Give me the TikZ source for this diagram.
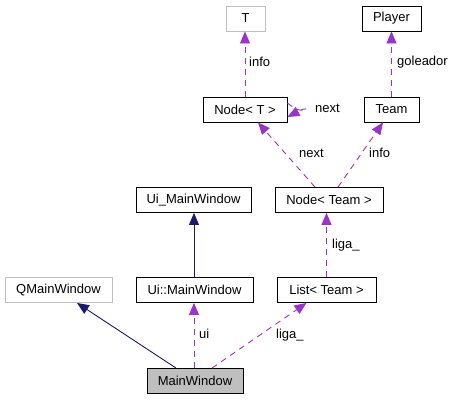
\documentclass[tikz,border=0pt]{standalone}
\usepackage{fontspec}
\setmainfont{Liberation Sans}
\usetikzlibrary{arrows.meta}
\definecolor{usage}{HTML}{9A32CD}
\definecolor{inherit}{HTML}{191970}
\definecolor{extgray}{HTML}{BFBFBF}
\tikzset{
  cls/.style={draw=black, fill=white, line width=0.9pt, inner sep=0pt, minimum height=25pt, font=\fontsize{13}{15}\selectfont},
  ext/.style={cls, draw=extgray},
  cur/.style={cls, fill=extgray},
  inh/.style={draw=inherit, line width=0.9pt, -{Triangle[length=12pt,width=10pt]}},
  use/.style={draw=usage, line width=0.9pt, dash pattern=on 6pt off 5pt, -{Triangle[length=12pt,width=10pt]}},
  lbl/.style={font=\fontsize{13}{15}\selectfont, inner sep=0pt, anchor=west}
}
\begin{document}
\begin{tikzpicture}[x=1pt,y=-1pt]
\useasboundingbox (0,0) rectangle (451,400);
\node[ext, minimum width=107pt] (qmw) at (58.5,290) {QMainWindow};
\node[cls, minimum width=117pt] (uimw) at (194.5,290) {Ui::MainWindow};
\node[cls, minimum width=99pt] (list) at (326.5,290) {List< Team >};
\node[cur, minimum width=96pt] (mw) at (195,381) {MainWindow};
\node[cls, minimum width=115pt] (uiu) at (193.5,200) {Ui\_MainWindow};
\node[cls, minimum width=108pt] (nteam) at (329,200) {Node< Team >};
\node[ext, minimum width=39pt] (t) at (245.5,18.5) {T};
\node[cls, minimum width=59pt] (player) at (391.5,18.5) {Player};
\node[cls, minimum width=84pt] (nodet) at (245,109.5) {Node< T >};
\node[cls, minimum width=55pt] (team) at (391.5,109.5) {Team};

\draw[inh] ([xshift=-19pt]mw.north) -- ([xshift=18.5pt]qmw.south);
\draw[use] ([xshift=-1pt]mw.north) -- ([xshift=-0.5pt]uimw.south);
\draw[use] ([xshift=17pt]mw.north) -- ([xshift=-20pt]list.south);
\draw[inh] ([xshift=-0.5pt]uimw.north) -- ([xshift=0.5pt]uiu.south);
\draw[use] (list.north) -- ([xshift=-2.5pt]nteam.south);
\draw[use] ([xshift=-14pt]nteam.north) -- ([xshift=13pt]nodet.south);
\draw[use] ([xshift=9pt]nteam.north) -- ([xshift=-8.5pt]team.south);
\draw[use] (nodet.north) -- ([xshift=-0.5pt]t.south);
\draw[use] (team.north) -- (player.south);
\draw[use] ([yshift=6.5pt]nodet.east) .. controls (306,119) and (314,103) .. ([yshift=-7.5pt]nodet.east);

\node[lbl] (lui) at (199,334) {ui};
\node[lbl] (lliga1) at (276,335) {liga\_};
\node[lbl] (lliga2) at (332,245) {liga\_};
\node[lbl] (lnext1) at (299,153) {next};
\node[lbl] (linfo1) at (369,153) {info};
\node[lbl] (linfo2) at (249,62) {info};
\node[lbl] (lgol) at (397,62) {goleador};
\node[lbl] (lnext2) at (315,108) {next};
\end{tikzpicture}
\end{document}
